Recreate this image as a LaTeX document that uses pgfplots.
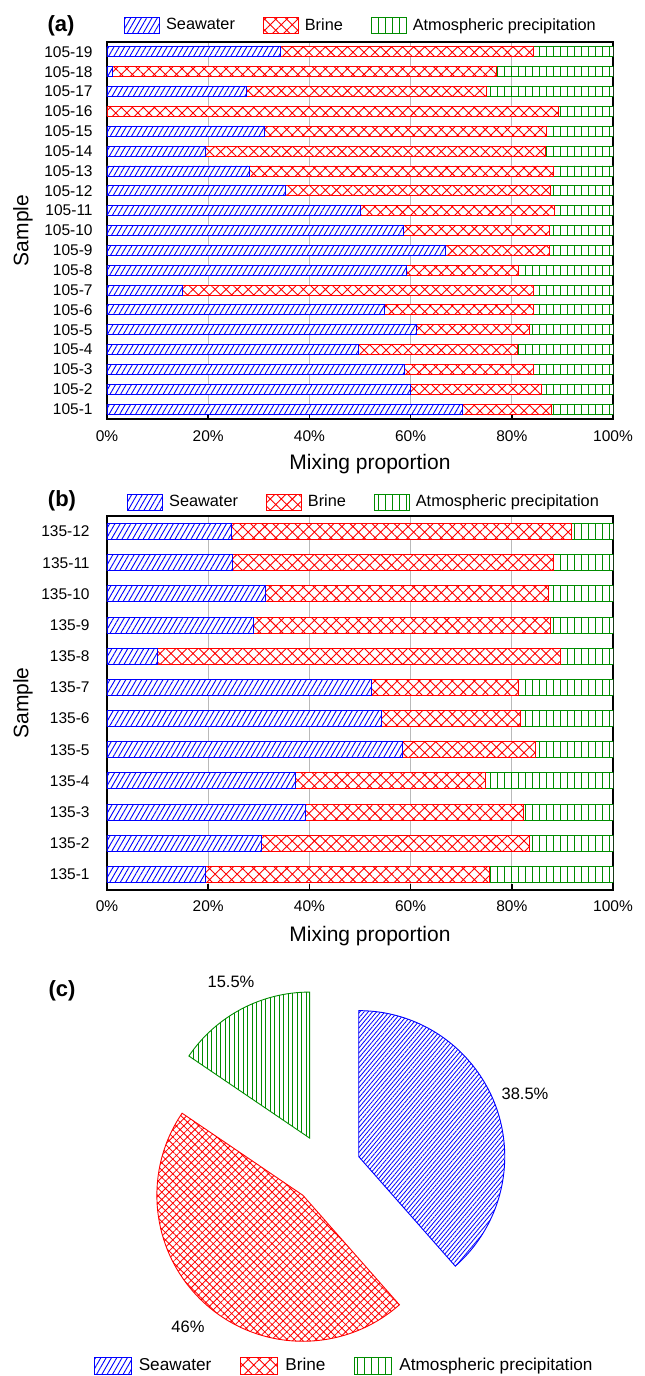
\documentclass[border=0pt]{standalone}
\usepackage{fontspec}
\setmainfont{Liberation Sans}
\usepackage{pgfplots}
\pgfplotsset{compat=1.18}
\usepackage{pgfplotstable}
\usetikzlibrary{patterns,patterns.meta}

\definecolor{sw}{RGB}{0,0,255}
\definecolor{br}{RGB}{255,0,0}
\definecolor{ap}{RGB}{0,140,0}

\newcommand\tickfont{\fontsize{7.75pt}{9pt}\selectfont}
\newcommand\labfont{\fontsize{10.5pt}{12pt}\selectfont}
\newcommand\legfont{\fontsize{8.15pt}{9.5pt}\selectfont}
\newcommand\piefont{\fontsize{8.25pt}{9.5pt}\selectfont}
\newcommand\pielegfont{\fontsize{8.6pt}{10pt}\selectfont}
\newcommand\titfont{\fontsize{11pt}{13pt}\selectfont\bfseries}

% panel (a): seawater, brine, atmospheric precipitation (%)
\pgfplotstableread{
y sea brine atm
1 70.2 17.7 12.1
2 60.0 25.8 14.2
3 58.8 25.4 15.8
4 49.7 31.4 18.9
5 61.2 22.2 16.6
6 54.8 29.4 15.8
7 14.9 69.4 15.7
8 59.1 22.2 18.7
9 66.8 20.7 12.5
10 58.6 28.8 12.6
11 50.1 38.3 11.6
12 35.2 52.5 12.3
13 28.2 60.1 11.7
14 19.5 67.2 13.3
15 31.2 55.6 13.2
16 0.0 89.3 10.7
17 27.5 47.5 25.0
18 1.0 75.9 23.1
19 34.3 50.0 15.7
}\dataA

% panel (b)
\pgfplotstableread{
y sea brine atm
1 19.4 56.1 24.5
2 30.5 52.9 16.6
3 39.3 43.0 17.7
4 37.2 37.5 25.3
5 58.3 26.3 15.4
6 54.2 27.5 18.3
7 52.3 29.0 18.7
8 9.9 79.8 10.3
9 29.0 58.6 12.4
10 31.4 55.8 12.8
11 24.8 63.5 11.7
12 24.5 67.3 8.2
}\dataB

\tikzset{
  seaB/.style={draw=sw, line width=0.45pt, fill=white, postaction={pattern color=sw, pattern={Lines[angle=60,distance=2.3pt,line width=0.45pt]}}},
  briB/.style={draw=br, line width=0.45pt, fill=white, postaction={pattern color=br, pattern={Hatch[angle=45,distance=3.9pt,line width=0.45pt]}}},
  atmB/.style={draw=ap, line width=0.45pt, fill=white, postaction={pattern color=ap, pattern={Lines[angle=90,distance=3.5pt,line width=0.45pt]}}},
  seaP/.style={draw=sw, line width=0.45pt, pattern color=sw, pattern={Lines[angle=50,distance=1.6pt,line width=0.4pt]}},
  briP/.style={draw=br, line width=0.45pt, pattern color=br, pattern={Hatch[angle=45,distance=2.6pt,line width=0.4pt]}},
  atmP/.style={draw=ap, line width=0.45pt, pattern color=ap, pattern={Lines[angle=90,distance=2.25pt,line width=0.4pt]}},
}

\pgfplotsset{
  legpatch/.style={legend image code/.code={\draw[##1] (0pt,-4pt) rectangle (17.5pt,4pt);}},
  barax/.style={
    scale only axis, width=253pt,
    xbar stacked, xmin=0, xmax=100,
    xtick={0,20,40,60,80,100},
    xticklabels={0\%,20\%,40\%,60\%,80\%,100\%},
    xmajorgrids, major grid style={gray!55, line width=0.5pt},
    axis line style={black, line width=0.8pt},
    tick align=inside, major tick length=3pt,
    xtick style={black, line width=0.8pt},
    ytick style={draw=none},
    xtick pos=bottom,
    ylabel=Sample, xlabel=Mixing proportion,
    label style={font=\labfont},
    ylabel style={at={(axis description cs:-0.166,0.5)}, anchor=center},
    xlabel style={at={(axis description cs:0.5,0)}, anchor=center, xshift=5pt},
    legpatch,
    legend columns=-1,
    legend style={draw=none, fill=none, font=\legfont, anchor=center,
      /tikz/every odd column/.append style={column sep=1pt},
      /tikz/every even column/.append style={column sep=12pt}},
  }
}

\pgfmathsetmacro{\aA}{90}
\pgfmathsetmacro{\aB}{90-3.6*38.5}
\pgfmathsetmacro{\aC}{\aB-3.6*46}
\pgfmathsetmacro{\aD}{\aC-3.6*15.5}
\pgfmathsetmacro{\mS}{(\aA+\aB)/2}
\pgfmathsetmacro{\mB}{(\aB+\aC)/2}
\pgfmathsetmacro{\mA}{(\aC+\aD)/2}

\begin{document}
\begin{tikzpicture}
\path[use as bounding box] (0,0) rectangle (322pt,-688pt);

\node[font=\titfont] at (30.5pt,-13pt) {(a)};
\node[font=\titfont] at (31pt,-250.5pt) {(b)};
\node[font=\titfont] at (31pt,-495.5pt) {(c)};

% ---------------- (a)
\begin{axis}[barax,
  at={(53.5pt,-209.5pt)}, anchor=south west,
  height=188.5pt, ymin=0.5, ymax=19.5, bar width=5pt,
  ytick={1,...,19},
  yticklabels={105-1,105-2,105-3,105-4,105-5,105-6,105-7,105-8,105-9,105-10,105-11,105-12,105-13,105-14,105-15,105-16,105-17,105-18,105-19},
  yticklabel style={font=\tickfont, inner sep=0pt, anchor=east, xshift=-7pt},
  xticklabel style={font=\tickfont, inner sep=0pt, anchor=north, yshift=-5.5pt},
  xlabel style={yshift=-22.75pt},
  legend style={at={(0.504,1.043)}},
]
\addplot[seaB] table[x=sea,y=y]{\dataA};
\addplot[briB] table[x=brine,y=y]{\dataA};
\addplot[atmB] table[x=atm,y=y]{\dataA};
\legend{Seawater,Brine,Atmospheric precipitation}
\end{axis}

% ---------------- (b)
\begin{axis}[barax,
  at={(53.5pt,-445pt)}, anchor=south west,
  height=187pt, ymin=0.5, ymax=12.5, bar width=8pt,
  ytick={1,...,12},
  yticklabels={135-1,135-2,135-3,135-4,135-5,135-6,135-7,135-8,135-9,135-10,135-11,135-12},
  yticklabel style={font=\tickfont, inner sep=0pt, anchor=east, xshift=-8.5pt},
  xticklabel style={font=\tickfont, inner sep=0pt, anchor=north, yshift=-5pt},
  xlabel style={yshift=-23pt},
  legend style={at={(0.51,1.036)}},
]
\addplot[seaB] table[x=sea,y=y]{\dataB};
\addplot[briB] table[x=brine,y=y]{\dataB};
\addplot[atmB] table[x=atm,y=y]{\dataB};
\legend{Seawater,Brine,Atmospheric precipitation}
\end{axis}

% ---------------- (c) pie: 38.5, 46, 15.5 %
\begin{axis}[
  at={(0pt,-688pt)}, anchor=south west,
  x=0.5pt, y=0.5pt,
  xmin=-326, xmax=318, ymin=-207, ymax=209,
  hide axis, clip=false,
  legend image code/.code={\draw[#1] (0pt,-4.2pt) rectangle (18.5pt,4.2pt);},
  legend columns=-1,
  legend style={draw=none, fill=none, font=\pielegfont, at={(0.536,0.024)}, anchor=center,
      /tikz/every odd column/.append style={column sep=1.5pt},
      /tikz/every even column/.append style={column sep=12.5pt}},
]
\addlegendimage{seaB}\addlegendentry{Seawater}
\addlegendimage{briB}\addlegendentry{Brine}
\addlegendimage{atmB}\addlegendentry{Atmospheric precipitation}
\draw[seaP] (axis cs:{35*cos(\mS)},{35*sin(\mS)}) -- ++(\aA:73pt) arc[start angle=\aA, end angle=\aB, radius=73pt] -- cycle;
\draw[briP] (axis cs:{35*cos(\mB)},{35*sin(\mB)}) -- ++(\aB:73pt) arc[start angle=\aB, end angle=\aC, radius=73pt] -- cycle;
\draw[atmP] (axis cs:{35*cos(\mA)},{35*sin(\mA)}) -- ++(\aC:73pt) arc[start angle=\aC, end angle=\aD, radius=73pt] -- cycle;
\node[font=\piefont] at (axis cs:199,75) {38.5\%};
\node[font=\piefont] at (axis cs:-138,-158) {46\%};
\node[font=\piefont] at (axis cs:-95,187) {15.5\%};
\end{axis}
\end{tikzpicture}
\end{document}
